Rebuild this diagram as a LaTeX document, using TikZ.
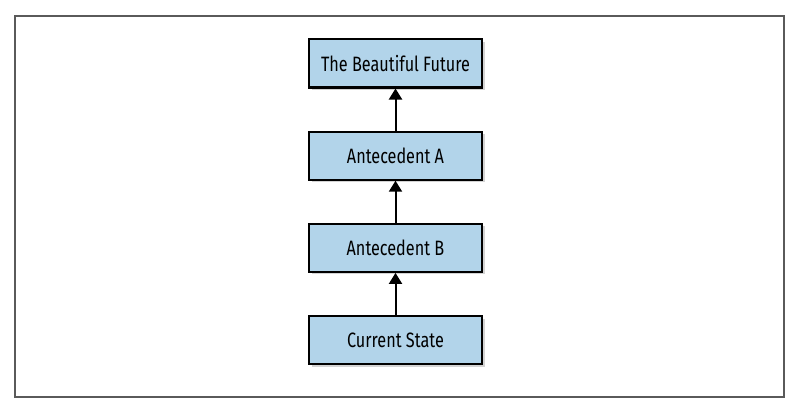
\documentclass[tikz,border=0pt]{standalone}
\usepackage{fontspec}
\setmainfont[FakeStretch=0.78]{Fira Sans}
\usetikzlibrary{positioning,arrows.meta,shadows}
\definecolor{boxblue}{RGB}{178,212,234}
\definecolor{framegray}{RGB}{90,90,90}
\begin{document}
\begin{tikzpicture}[x=1pt,y=-1pt,
	stage/.style={draw=black,line width=2.2pt,fill=boxblue,minimum width=173pt,minimum height=48pt,
		inner sep=0pt,font=\fontsize{20.8}{22}\selectfont,
		drop shadow={shadow xshift=2.5pt,shadow yshift=-2.5pt,opacity=.35}},
	up/.style={line width=2pt,-{Triangle[length=11pt,width=13pt]}}]
	\useasboundingbox (0,0) rectangle (798,412);
	\draw[framegray,line width=1.3pt] (15,16) rectangle (784,397);
	% chain of states, bottom to top
	\node[stage] (S) at (395.5,340) {Current State};
	\node[stage,above=42pt of S] (B) {Antecedent B};
	\node[stage,above=42pt of B] (A) {Antecedent A};
	\node[stage,above=42pt of A] (F) {The Beautiful Future};
	\foreach \p/\q in {S/B,B/A,A/F} \draw[up] (\p.north) -- (\q.south);
\end{tikzpicture}
\end{document}
